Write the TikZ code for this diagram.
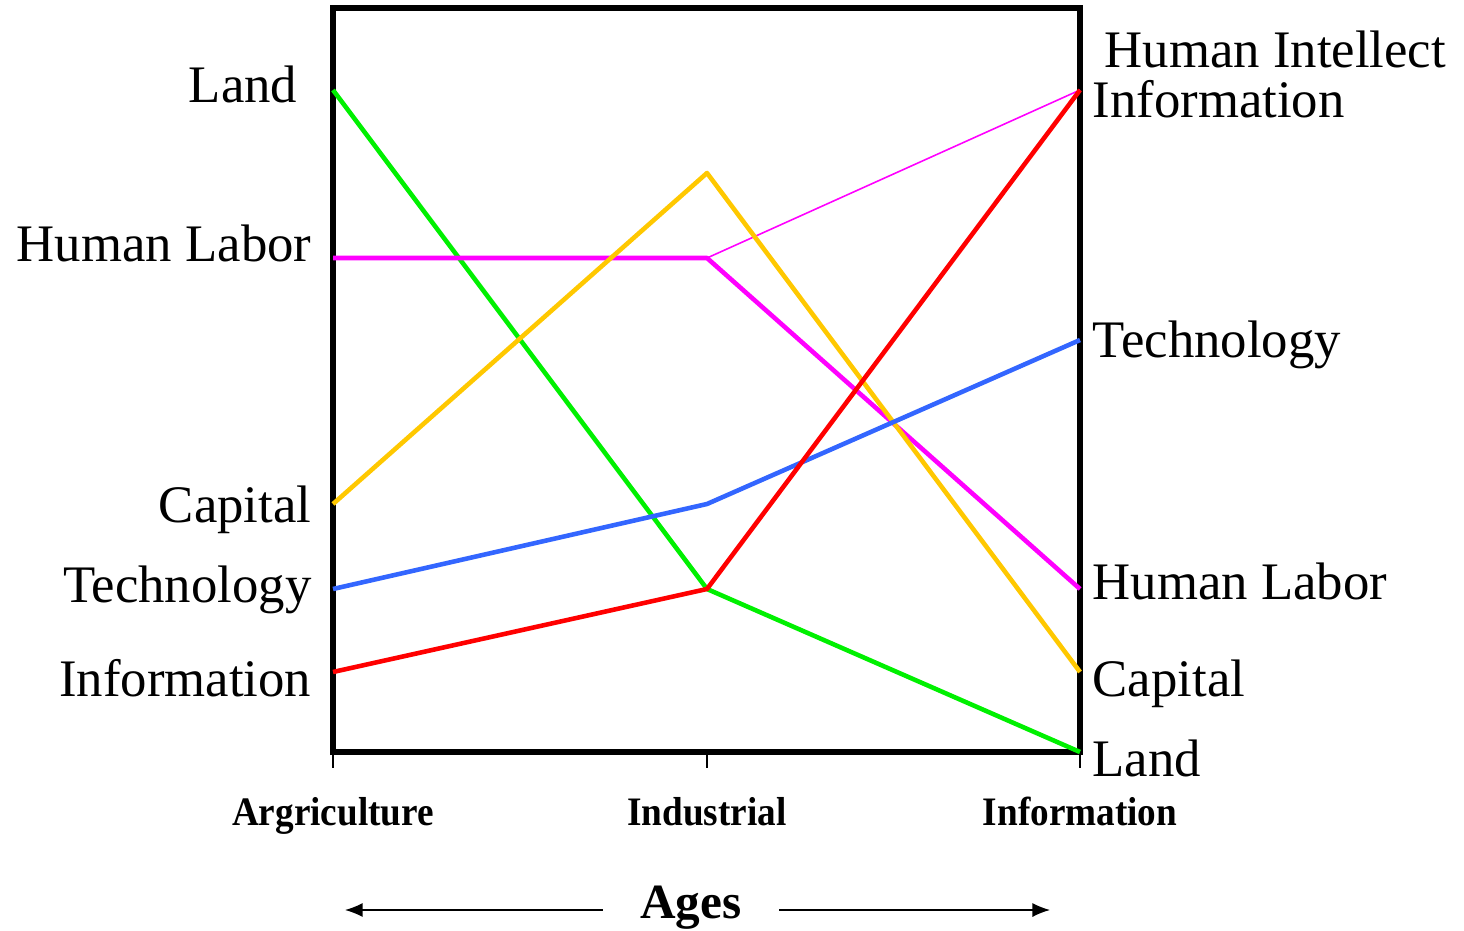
\documentclass[tikz,border=0pt]{standalone}
\usepackage{fontspec}
\setmainfont{Liberation Serif}
\usetikzlibrary{arrows.meta}
\definecolor{mygreen}{RGB}{0,240,0}
\definecolor{mymagenta}{RGB}{255,0,255}
\definecolor{myyellow}{RGB}{255,200,0}
\definecolor{myblue}{RGB}{51,102,255}
\definecolor{myred}{RGB}{255,0,0}
\tikzset{
  >=latex,
  frame/.style={line width=1.6pt,black},
  series/.style={line width=1.3pt,line join=round},
  label left/.style={anchor=base east,inner sep=0,font=\fontsize{15}{18}\selectfont},
  label right/.style={anchor=base west,inner sep=0,font=\fontsize{15}{18}\selectfont},
  age label/.style={anchor=base,inner sep=0,xscale=0.92,font=\fontsize{11.5}{14}\selectfont\bfseries},
  tick/.style={thin,black},
  age arrow/.style={-{Latex[length=5,width=4]},thin,black}
}

\begin{document}
\begin{tikzpicture}[x=0.01cm,y=-0.01cm]
  \useasboundingbox (0,0) rectangle (1464,931);
  \def\xA{333} % agriculture column
  \def\xI{707} % industrial column
  \def\xN{1080} % information column

  % FRAME
  \draw[frame] (\xA,8) rectangle (\xN,752);
  \foreach \x/\n in {\xA/A,\xI/I,\xN/N}{ % ticks below the frame
    \coordinate (tick-\n) at (\x,752);
    \coordinate (tickend-\n) at (\x,768);
    \draw[tick] (tick-\n) -- (tickend-\n);
  }

  % SERIES POINTS (name/y at agriculture/y at industrial/y at information)
  \foreach \s/\a/\i/\n in {land/90/589/752,labor/258/258/589,capital/504/173/672,
                           tech/589/504/340,info/672/589/90}{
    \coordinate (\s-A) at (\xA,\a);
    \coordinate (\s-I) at (\xI,\i);
    \coordinate (\s-N) at (\xN,\n);
  }
  \coordinate (intellect-N) at (\xN,90);

  % SERIES
  \draw[series,mygreen] (land-A) -- (land-I) -- (land-N);
  \draw[series,mymagenta] (labor-A) -- (labor-I) -- (labor-N);
  \draw[mymagenta,line width=0.45pt] (labor-I) -- (intellect-N);
  \draw[series,myyellow] (capital-A) -- (capital-I) -- (capital-N);
  \draw[series,myblue] (tech-A) -- (tech-I) -- (tech-N);
  \draw[series,myred] (info-A) -- (info-I) -- (info-N);

  % LEFT LABELS
  \node[label left] (lLand) at (298,103) {Land};
  \node[label left] (lLabor) at (312,262) {Human Labor};
  \node[label left] (lCapital) at (312,523) {Capital};
  \node[label left] (lTech) at (312,603) {Technology};
  \node[label left] (lInfo) at (312,696) {Information};

  % RIGHT LABELS
  \node[label right] (rIntellect) at (1104,68) {Human Intellect};
  \node[label right] (rInfo) at (1092,118) {Information};
  \node[label right] (rTech) at (1092,358) {Technology};
  \node[label right] (rLabor) at (1092,600) {Human Labor};
  \node[label right] (rCapital) at (1092,696) {Capital};
  \node[label right] (rLand) at (1092,776) {Land};

  % AGES
  \node[age label] (agri) at (\xA,825) {Argriculture};
  \node[age label] (indu) at (\xI,825) {Industrial};
  \node[age label] (infa) at (\xN,825) {Information};
  \node[font=\fontsize{14}{17}\selectfont\bfseries,inner xsep=0.37cm,inner ysep=0] (ages) at (691,908) {Ages};
  \coordinate (ages-l) at (345,910);
  \coordinate (ages-r) at (1050,910);
  \draw[age arrow] (ages.west |- ages-l) -- (ages-l);
  \draw[age arrow] (ages.east |- ages-r) -- (ages-r);
\end{tikzpicture}
\end{document}
